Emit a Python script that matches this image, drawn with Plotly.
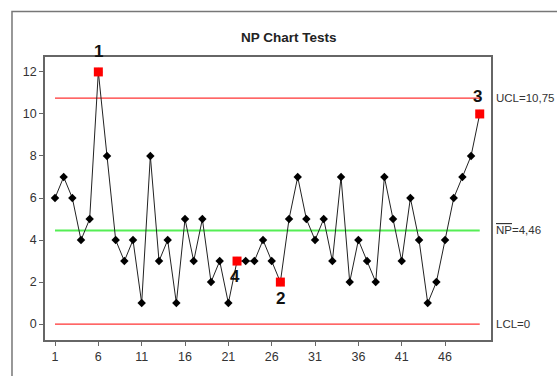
import plotly.graph_objects as go

# Sample numbers and defectives count (np) per sample
samples = list(range(1, 51))
np_values = [6, 7, 6, 4, 5, 12, 8, 4, 3, 4,
             1, 8, 3, 4, 1, 5, 3, 5, 2, 3,
             1, 3, 3, 3, 4, 3, 2, 5, 7, 5,
             4, 5, 3, 7, 2, 4, 3, 2, 7, 5,
             3, 6, 4, 1, 2, 4, 6, 7, 8, 10]

# Control limits
ucl = 10.75
center = 4.46
lcl = 0

# Points that fail a test: sample number and test id
flag_samples = [6, 27, 50, 22]
flag_tests = ["1", "2", "3", "4"]
flag_offsets = [20, -16, 17, -15]   # label placement above (+) / below (-)
flag_xshift = [0, 0, -2, -2]

x_ticks = [1, 6, 11, 16, 21, 26, 31, 36, 41, 46]
y_ticks = [0, 2, 4, 6, 8, 10, 12]

font_family = "Liberation Sans, Arial, sans-serif"

fig = go.Figure()

# Control lines
for val, col, w in [(ucl, "#ff3333", 1.3), (center, "#55ee55", 2), (lcl, "#ff3333", 1.3)]:
    fig.add_trace(go.Scatter(
        x=[samples[0], samples[-1]], y=[val, val], mode="lines",
        line=dict(color=col, width=w), hoverinfo="skip", showlegend=False))

# Main np series
fig.add_trace(go.Scatter(
    x=samples, y=np_values, mode="lines+markers",
    line=dict(color="#222222", width=1),
    marker=dict(symbol="diamond", size=6.5, color="#000000"),
    showlegend=False))

# Flagged points
flag_y = [np_values[samples.index(s)] for s in flag_samples]
fig.add_trace(go.Scatter(
    x=flag_samples, y=flag_y, mode="markers",
    marker=dict(symbol="square", size=9, color="#ff0000"),
    showlegend=False, cliponaxis=False))

annotations = []
for s, yv, t, off, xs in zip(flag_samples, flag_y, flag_tests, flag_offsets, flag_xshift):
    annotations.append(dict(
        x=s, y=yv, xref="x", yref="y", text=f"<b>{t}</b>", showarrow=False,
        yshift=off, xshift=xs, font=dict(size=17, color="#111111", family=font_family)))

# Limit labels on the right
for val, txt in [(ucl, "UCL=10,75"),
                 (center, "<span style='text-decoration:overline'>NP</span>=4,46"),
                 (lcl, "LCL=0")]:
    annotations.append(dict(
        x=1.006, y=val, xref="paper", yref="y", text=txt, showarrow=False,
        xanchor="left", yanchor="middle",
        font=dict(size=11.5, color="#333333", family=font_family)))

# Title
annotations.append(dict(
    x=0.547, y=1.070, xref="paper", yref="paper", text="<b>NP Chart Tests</b>",
    showarrow=False, xanchor="center", yanchor="middle",
    font=dict(size=13.5, color="#222222", family=font_family)))

# Outer chart frame
shapes = [dict(type="rect", xref="paper", yref="paper",
               x0=-0.074, y0=-0.5, x1=2.0, y1=1.161,
               line=dict(color="#777777", width=1.5), layer="below")]

fig.update_layout(
    width=557, height=376,
    margin=dict(l=45, r=66, t=57, b=34),
    paper_bgcolor="white", plot_bgcolor="white",
    annotations=annotations, shapes=shapes,
    font=dict(family=font_family, size=12, color="#333333"),
)
fig.update_xaxes(
    range=[-0.154, 51.3], tickmode="array", tickvals=x_ticks,
    showgrid=False, zeroline=False, showline=True, mirror=True,
    linecolor="#666666", linewidth=1.5,
    ticks="outside", ticklen=4, tickcolor="#666666",
    tickfont=dict(size=12.5, color="#333333"))
fig.update_yaxes(
    range=[-0.756, 12.71], tickmode="array", tickvals=y_ticks,
    showgrid=False, zeroline=False, showline=True, mirror=True,
    linecolor="#666666", linewidth=1.5,
    ticks="outside", ticklen=4, tickcolor="#666666",
    tickfont=dict(size=12.5, color="#333333"))

fig.write_html("out.html")
